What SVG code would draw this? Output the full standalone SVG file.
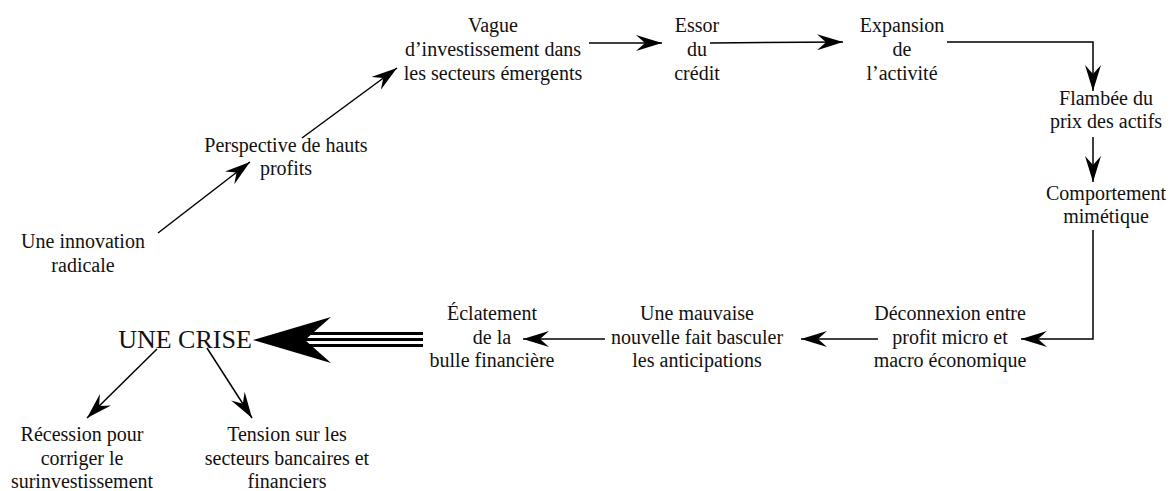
<svg xmlns="http://www.w3.org/2000/svg" width="1172" height="491" viewBox="0 0 1172 491">
<style>
text{font-family:"Liberation Serif","DejaVu Serif",serif;font-size:20px;fill:#111;text-anchor:middle}
.big{font-size:26px}
.c{stroke:#000;stroke-width:1.5;fill:none}
.t{stroke:#000;stroke-width:3}
</style>
<defs>
<marker id="ah" markerUnits="userSpaceOnUse" markerWidth="27" markerHeight="17" refX="26" refY="8" orient="auto" viewBox="0 0 27 17">
<path d="M0,0 L26,8 L0,16 L9,8 Z" fill="#000"/>
</marker>
</defs>
<rect width="1172" height="491" fill="#fff"/>
<g id="n1"><text x="83" y="248">Une innovation</text><text x="83" y="272">radicale</text></g>
<g id="n2"><text x="286" y="152">Perspective de hauts</text><text x="286" y="175">profits</text></g>
<g id="n3"><text x="493" y="32">Vague</text><text x="493" y="56">d’investissement dans</text><text x="493" y="80">les secteurs émergents</text></g>
<g id="n4"><text x="697" y="32">Essor</text><text x="697" y="56">du</text><text x="697" y="80">crédit</text></g>
<g id="n5"><text x="902" y="32">Expansion</text><text x="902" y="56">de</text><text x="902" y="80">l’activité</text></g>
<g id="n6"><text x="1106" y="105">Flambée du</text><text x="1106" y="128">prix des actifs</text></g>
<g id="n7"><text x="1106" y="200">Comportement</text><text x="1106" y="223">mimétique</text></g>
<g id="n8"><text x="950" y="320">Déconnexion entre</text><text x="950" y="344">profit micro et</text><text x="950" y="367">macro économique</text></g>
<g id="n9"><text x="697" y="320">Une mauvaise</text><text x="697" y="344">nouvelle fait basculer</text><text x="697" y="367">les anticipations</text></g>
<g id="n10"><text x="492" y="320">Éclatement</text><text x="492" y="344">de la</text><text x="492" y="367">bulle financière</text></g>
<g id="n11"><text class="big" x="185" y="348">UNE CRISE</text></g>
<g id="n12"><text x="82" y="441">Récession pour</text><text x="82" y="465">corriger le</text><text x="82" y="488">surinvestissement</text></g>
<g id="n13"><text x="287" y="441">Tension sur les</text><text x="287" y="465">secteurs bancaires et</text><text x="287" y="488">financiers</text></g>
<g id="connectors">
<line class="c" x1="158" y1="233" x2="250" y2="162" marker-end="url(#ah)"/>
<line class="c" x1="302" y1="138" x2="397" y2="68" marker-end="url(#ah)"/>
<line class="c" x1="589" y1="43" x2="662" y2="43" marker-end="url(#ah)"/>
<line class="c" x1="710" y1="43" x2="843" y2="42" marker-end="url(#ah)"/>
<polyline class="c" points="947,42 1093,42 1093,91" marker-end="url(#ah)"/>
<line class="c" x1="1093" y1="137" x2="1093" y2="182" marker-end="url(#ah)"/>
<polyline class="c" points="1093,230 1093,339 1021,339" marker-end="url(#ah)"/>
<line class="c" x1="878" y1="339" x2="801" y2="339" marker-end="url(#ah)"/>
<line class="c" x1="605" y1="339" x2="523" y2="339" marker-end="url(#ah)"/>
<line class="c" x1="157" y1="349" x2="87" y2="418" marker-end="url(#ah)"/>
<line class="c" x1="207" y1="348" x2="252" y2="418" marker-end="url(#ah)"/>
<g id="big-arrow">
<line class="t" x1="304" y1="333.5" x2="423" y2="333.5"/>
<line class="t" x1="300" y1="339.5" x2="423" y2="339.5"/>
<line class="t" x1="304" y1="345.5" x2="423" y2="345.5"/>
<path d="M253,340 L331,317 L305,340 L331,363 Z" fill="#000"/>
</g>
</g>
</svg>
